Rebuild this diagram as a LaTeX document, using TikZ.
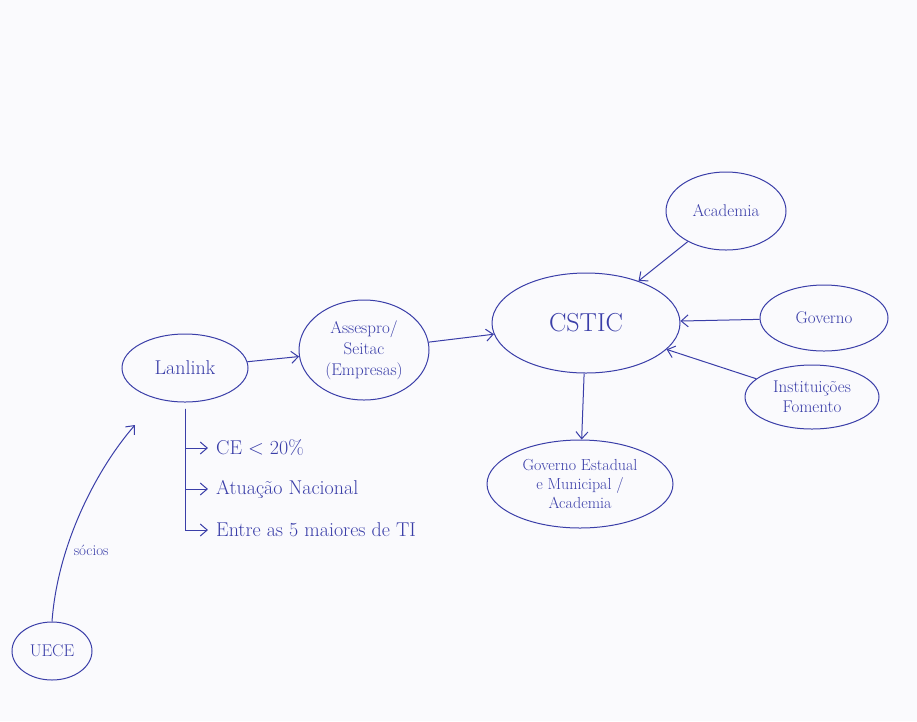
\documentclass[tikz,border=0pt]{standalone}
\usepackage{fontspec}
\usepackage{tikz}
\usetikzlibrary{arrows,arrows.meta,positioning,shapes,calc,backgrounds}
\usepackage{xcolor}
\definecolor{ink}{RGB}{58,62,168}
\definecolor{paper}{RGB}{250,250,253}

\begin{document}
\begin{tikzpicture}[x=1pt,y=-1pt,>={Straight Barb[length=7pt,width=12pt]},
    bubble/.style={draw=ink,ellipse,line width=1pt,inner sep=0pt,text=ink,align=center,font=\fontsize{20}{22}\selectfont},
    link/.style={->,draw=ink,line width=1pt},
    item/.style={anchor=west,text=ink,inner sep=0pt,font=\fontsize{20}{22}\selectfont}]
    \fill[paper] (0,0) rectangle (917,721);
    % left part
    \node[bubble,minimum width=126,minimum height=68] (lanlink) at (185,368) {Lanlink};
    \node[bubble,minimum width=130,minimum height=100,font=\fontsize{17}{21}\selectfont] (assespro) at (364,350) {Assespro/\\Seitac\\(Empresas)};
    \node[bubble,minimum width=80,minimum height=58,font=\fontsize{17}{20}\selectfont] (uece) at (52,651) {UECE};
    % centre and right
    \node[bubble,minimum width=188,minimum height=100,font=\fontsize{26}{30}\selectfont] (cstic) at (586,323) {CSTIC};
    \node[bubble,minimum width=120,minimum height=78,font=\fontsize{17}{20}\selectfont] (acad) at (726,211) {Academia};
    \node[bubble,minimum width=128,minimum height=66,font=\fontsize{17}{20}\selectfont] (gov) at (824,318) {Governo};
    \node[bubble,minimum width=134,minimum height=64,font=\fontsize{17}{20}\selectfont] (fomento) at (812,397) {Instituições\\Fomento};
    \node[bubble,minimum width=186,minimum height=88,font=\fontsize{16}{19}\selectfont] (govest) at (580,484) {Governo Estadual\\e Municipal /\\Academia};
    \draw[link] (lanlink) -- (assespro);
    \draw[link] (assespro) -- (cstic);
    \draw[link] (acad) -- (cstic);
    \draw[link] (gov) -- (cstic);
    \draw[link] (fomento) -- (cstic);
    \draw[link] (cstic) -- (govest);
    % Lanlink list
    \node[item] (ce) at (216,448) {CE $<$ 20\%};
    \node[item] (atuacao) at (216,489) {Atuação Nacional};
    \node[item] (maiores) at (216,530) {Entre as 5 maiores de TI};
    \draw[link,shorten <=6pt,shorten >=8pt] (lanlink.south) |- (ce.west);
    \draw[link,shorten <=6pt,shorten >=8pt] (lanlink.south) |- (atuacao.west);
    \draw[link,shorten <=6pt,shorten >=8pt] (lanlink.south) |- (maiores.west);
    % UECE
    \coordinate (ueceend) at (135,425);
    \draw[link] (uece.north) .. controls (58,540) and (100,465) .. node[right,pos=0.3,text=ink,font=\fontsize{15}{17}\selectfont,xshift=4pt] {sócios} (ueceend);
\end{tikzpicture}
\end{document}
